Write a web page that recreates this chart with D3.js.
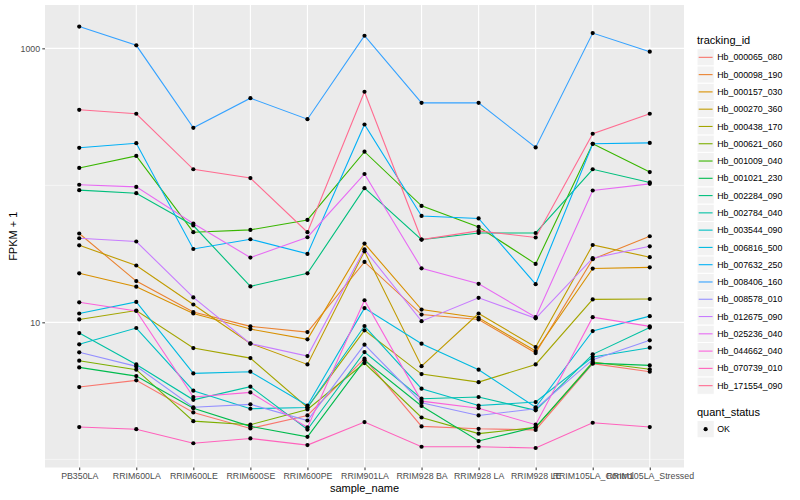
<!DOCTYPE html>
<html><head><meta charset="utf-8">
<script src="https://cdn.jsdelivr.net/npm/d3@7"></script>
<style>body{margin:0;background:#fff;} text{font-family:"Liberation Sans",Arial,Helvetica,sans-serif;}</style>
</head><body><svg id="chart" width="800" height="500"></svg>
<script>
// ---- data (FPKM + 1) ----
const samples = ["PB350LA","RRIM600LA","RRIM600LE","RRIM600SE","RRIM600PE","RRIM901LA","RRIM928 BA","RRIM928 LA","RRIM928 LE","RRIM105LA_Control","RRIM105LA_Stressed"];
const trackingIds = ["Hb_000065_080","Hb_000098_190","Hb_000157_030","Hb_000270_360","Hb_000438_170","Hb_000621_060","Hb_001009_040","Hb_001021_230","Hb_002284_090","Hb_002784_040","Hb_003544_090","Hb_006816_500","Hb_007632_250","Hb_008406_160","Hb_008578_010","Hb_012675_090","Hb_025236_040","Hb_044662_040","Hb_070739_010","Hb_171554_090"];
const seriesColors = ["#F8766D","#EA8331","#D89000","#C09B00","#A3A500","#7CAE00","#39B600","#00BB4E","#00BF7D","#00C1A3","#00BFC4","#00BAE0","#00B0F6","#35A2FF","#9590FF","#C77CFF","#E76BF3","#FA62DB","#FF62BC","#FF6C91"];

const hb000065_080 = [3.37, 3.77, 2.20, 1.68, 2.09, 5.43, 1.74, 1.67, 1.64, 4.99, 4.36];
const hb000098_190 = [44.5, 20.0, 11.9, 9.35, 8.49, 27.6, 11.4, 10.5, 5.97, 28.9, 42.5];
const hb000157_030 = [22.8, 18.2, 11.6, 8.93, 7.51, 37.6, 12.4, 10.8, 6.17, 24.7, 25.2];
const hb000270_360 = [36.5, 26.0, 13.5, 7.02, 4.93, 33.0, 4.79, 11.6, 6.60, 36.7, 29.9];
const hb000438_170 = [10.5, 12.2, 6.49, 5.48, 2.39, 8.74, 4.19, 3.66, 4.93, 14.7, 14.8];
const hb000621_060 = [5.25, 4.51, 1.90, 1.79, 2.31, 5.04, 2.02, 1.54, 1.71, 5.13, 4.54];
const hb001009_040 = [134, 164, 45.5, 47.3, 55.9, 176, 70.8, 49.7, 26.7, 201, 125];
const hb001021_230 = [4.69, 4.05, 2.36, 1.74, 1.46, 5.28, 2.45, 1.36, 1.72, 5.04, 4.85];
const hb002284_090 = [92.2, 87.6, 50.9, 18.3, 22.8, 95.3, 40.2, 44.9, 44.9, 131, 105];
const hb002784_040 = [8.35, 4.93, 2.72, 3.39, 1.65, 6.07, 2.77, 2.85, 2.28, 5.84, 9.15];
const hb003544_090 = [6.91, 9.09, 3.17, 2.34, 2.39, 9.40, 3.28, 2.47, 2.62, 5.58, 6.53];
const hb006816_500 = [11.6, 14.1, 4.24, 4.36, 2.47, 12.7, 6.99, 4.51, 2.40, 8.64, 11.1];
const hb007632_250 = [188, 203, 34.3, 40.4, 31.6, 278, 59.8, 57.3, 19.0, 201, 204];
const hb008406_160 = [1443, 1052, 263, 433, 304, 1236, 400, 400, 189, 1293, 945];
const hb008578_010 = [6.04, 4.77, 2.40, 2.52, 1.92, 6.87, 2.59, 2.09, 2.34, 5.34, 7.39];
const hb012675_090 = [41.1, 38.9, 15.2, 6.99, 5.67, 34.1, 10.2, 15.1, 10.7, 29.4, 35.9];
const hb025236_040 = [101, 97.4, 52.6, 29.7, 41.8, 121, 24.8, 19.1, 10.9, 91.7, 102.5];
const hb044662_040 = [14.0, 12.1, 2.85, 3.08, 1.71, 14.5, 2.66, 2.36, 1.79, 10.9, 9.35];
const hb070739_010 = [1.72, 1.66, 1.31, 1.42, 1.27, 1.87, 1.235, 1.235, 1.21, 1.85, 1.72];
const hb171554_090 = [356, 333, 131, 113, 45.5, 482, 40.2, 46.5, 41.6, 238, 333];

const seriesValues = [hb000065_080, hb000098_190, hb000157_030, hb000270_360, hb000438_170, hb000621_060, hb001009_040, hb001021_230, hb002284_090, hb002784_040, hb003544_090, hb006816_500, hb007632_250, hb008406_160, hb008578_010, hb012675_090, hb025236_040, hb044662_040, hb070739_010, hb171554_090];

const yMajorTicks = [10, 1000];
const yMinorTicks = [1, 100];
const yTickLabels = ["10", "1000"];
const quantStatus = ["OK"];

// ---- layout ----
const svg = d3.select("#chart");
const P = {left: 45, right: 684, top: 5, bottom: 467.5};

const x = d3.scalePoint().domain(samples).range([P.left, P.right]).padding(0.6);
const y = d3.scaleLog().domain([0.8717, 2072]).range([P.bottom, P.top]);

// panel
svg.append("rect").attr("x", P.left).attr("y", P.top)
  .attr("width", P.right - P.left).attr("height", P.bottom - P.top).attr("fill", "#EBEBEB");

// gridlines
const g = svg.append("g");
g.selectAll(".ymin").data(yMinorTicks).join("line")
  .attr("x1", P.left).attr("x2", P.right)
  .attr("y1", d => y(d)).attr("y2", d => y(d))
  .attr("stroke", "#fff").attr("stroke-width", 0.55);
g.selectAll(".ymaj").data(yMajorTicks).join("line")
  .attr("x1", P.left).attr("x2", P.right)
  .attr("y1", d => y(d)).attr("y2", d => y(d))
  .attr("stroke", "#fff").attr("stroke-width", 1.1);
g.selectAll(".xmaj").data(samples).join("line")
  .attr("x1", d => x(d)).attr("x2", d => x(d))
  .attr("y1", P.top).attr("y2", P.bottom)
  .attr("stroke", "#fff").attr("stroke-width", 1.1);

// lines
const line = d3.line().x((d, i) => x(samples[i])).y(d => y(d));
svg.append("g").selectAll("path").data(seriesValues).join("path")
  .attr("d", d => line(d)).attr("fill", "none")
  .attr("stroke", (d, i) => seriesColors[i]).attr("stroke-width", 1.1);

// points
const pts = [];
seriesValues.forEach(s => s.forEach((v, i) => pts.push({s: samples[i], v})));
svg.append("g").selectAll("circle").data(pts).join("circle")
  .attr("cx", d => x(d.s)).attr("cy", d => y(d.v)).attr("r", 2.1).attr("fill", "#000");

// axes
const yAxis = d3.axisLeft(y).tickValues(yMajorTicks).tickFormat((d, i) => yTickLabels[i]).tickSize(2.7).tickPadding(2.2);
const ya = svg.append("g").attr("transform", `translate(${P.left},0)`).call(yAxis);
ya.select(".domain").remove();
ya.selectAll("line").attr("stroke", "#333");
ya.selectAll("text").attr("fill", "#4D4D4D").attr("font-size", "8.8px").attr("font-family", "Liberation Sans, Arial, sans-serif");

const xAxis = d3.axisBottom(x).tickSize(2.7).tickPadding(2.2);
const xa = svg.append("g").attr("transform", `translate(0,${P.bottom})`).call(xAxis);
xa.select(".domain").remove();
xa.selectAll("line").attr("stroke", "#333");
xa.selectAll("text").attr("fill", "#4D4D4D").attr("font-size", "8.8px").attr("font-family", "Liberation Sans, Arial, sans-serif");

// axis titles
svg.append("text").attr("x", (P.left + P.right) / 2).attr("y", 492)
  .attr("text-anchor", "middle").attr("font-size", "11px").attr("fill", "#000").text("sample_name");
svg.append("text").attr("transform", `translate(17,${(P.top + P.bottom) / 2}) rotate(-90)`)
  .attr("text-anchor", "middle").attr("font-size", "11px").attr("fill", "#000").text("FPKM + 1");

// legend: tracking_id
const L = {x: 697, y0: 48.7, k: 17.28};
svg.append("text").attr("x", L.x).attr("y", 44).attr("font-size", "11px").attr("fill", "#000").text("tracking_id");
const lg = svg.append("g").selectAll("g").data(trackingIds).join("g")
  .attr("transform", (d, i) => `translate(${L.x},${L.y0 + i * L.k})`);
lg.append("rect").attr("width", L.k).attr("height", L.k).attr("fill", "#F2F2F2").attr("stroke", "#fff").attr("stroke-width", 1);
lg.append("line").attr("x1", 1.7).attr("x2", L.k - 1.7).attr("y1", L.k / 2).attr("y2", L.k / 2)
  .attr("stroke", (d, i) => seriesColors[i]).attr("stroke-width", 1.1);
lg.append("text").attr("x", L.k + 3).attr("y", L.k / 2 + 3.1).attr("font-size", "8.8px").attr("fill", "#000").text(d => d);

// legend: quant_status
svg.append("text").attr("x", L.x).attr("y", 416).attr("font-size", "11px").attr("fill", "#000").text("quant_status");
const qg = svg.append("g").selectAll("g").data(quantStatus).join("g")
  .attr("transform", (d, i) => `translate(${L.x},${420.5 + i * L.k})`);
qg.append("rect").attr("width", L.k).attr("height", L.k).attr("fill", "#F2F2F2").attr("stroke", "#fff").attr("stroke-width", 1);
qg.append("circle").attr("cx", L.k / 2).attr("cy", L.k / 2).attr("r", 2.1).attr("fill", "#000");
qg.append("text").attr("x", L.k + 3).attr("y", L.k / 2 + 3.1).attr("font-size", "8.8px").attr("fill", "#000").text(d => d);
</script></body></html>
